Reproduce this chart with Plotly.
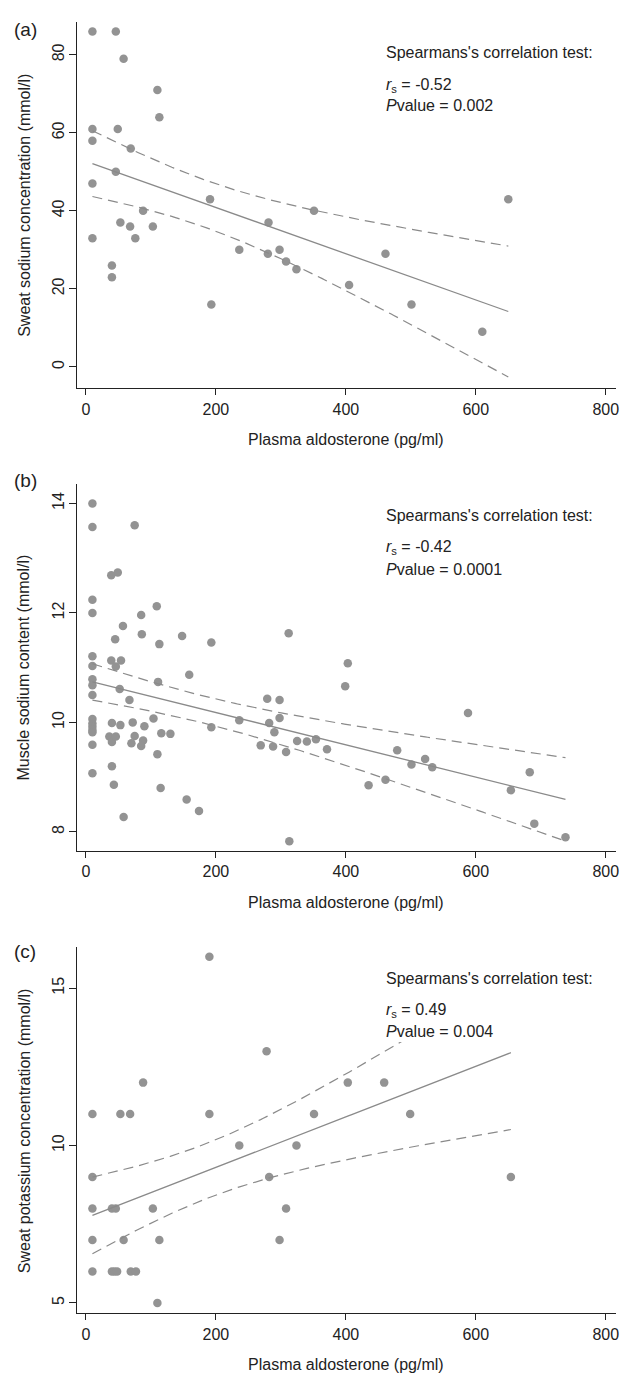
import math
import numpy as np
import plotly.graph_objects as go

# ---------------- data ----------------
x_title = "Plasma aldosterone (pg/ml)"
panel_labels = ["(a)", "(b)", "(c)"]
y_titles = ["Sweat sodium concentration (mmol/l)",
            "Muscle sodium content (mmol/l)",
            "Sweat potassium concentration (mmol/l)"]
x_ticks = [0, 200, 400, 600, 800]
a_ticks = [0, 20, 40, 60, 80]
b_ticks = [8, 10, 12, 14]
c_ticks = [5, 10, 15]
rs_text = ["-0.52", "-0.42", "0.49"]
p_text = ["0.002", "0.0001", "0.004"]

a_x = [10, 46, 58, 110, 113, 10, 49, 10, 69, 46, 10, 191, 88, 53, 68, 103, 281, 351,
       10, 76, 40, 40, 236, 280, 298, 308, 324, 193, 405, 461, 501, 610, 650]
a_y = [86, 86, 79, 71, 64, 61, 61, 58, 56, 50, 47, 43, 40, 37, 36, 36, 37, 40,
       33, 33, 26, 23, 30, 29, 30, 27, 25, 16, 21, 29, 16, 9, 43]

b_x = [10, 10, 75, 39, 49, 10, 10, 109, 85, 57, 45, 86, 148, 113, 193, 312, 10, 39, 54, 10, 46, 403,
       10, 10, 10, 52, 111, 159, 67, 399, 279, 298, 588,
       10, 10, 10, 10, 10, 10, 10,
       40, 53, 72, 90, 104,
       36, 40, 46, 75, 70, 88, 85, 116, 130, 110, 40, 43, 115, 155, 174, 58,
       193, 236, 282, 298, 290, 269, 288, 308, 325, 340, 354, 371, 313,
       479, 501, 522, 533, 435, 461, 654, 683, 690, 738]
b_y = [14.0, 13.57, 13.6, 12.69, 12.74, 12.24, 12.0, 12.12, 11.96, 11.76, 11.52, 11.61, 11.58, 11.43,
       11.46, 11.63, 11.21, 11.13, 11.13, 11.03, 11.02, 11.08,
       10.79, 10.68, 10.5, 10.61, 10.74, 10.87, 10.41, 10.66, 10.43, 10.41, 10.17,
       10.06, 9.98, 9.92, 9.86, 9.82, 9.59, 9.07,
       9.99, 9.95, 10.0, 9.93, 10.07,
       9.74, 9.64, 9.74, 9.75, 9.62, 9.67, 9.57, 9.8, 9.79, 9.42, 9.2, 8.86, 8.8, 8.59, 8.38, 8.27,
       9.91, 10.04, 9.99, 10.08, 9.82, 9.58, 9.56, 9.46, 9.66, 9.65, 9.69, 9.51, 7.83,
       9.49, 9.23, 9.33, 9.18, 8.85, 8.95, 8.76, 9.09, 8.15, 7.9]

# the last point (x = 610) lies under the white text box, as in the reference
c_x = [190, 278, 88, 403, 459, 10, 53, 68, 190, 351, 499, 236, 324, 10, 282, 654,
       10, 40, 46, 103, 308, 10, 58, 113, 298, 10, 40, 44, 48, 69, 77, 110, 610]
c_y = [16, 13, 12, 12, 12, 11, 11, 11, 11, 11, 11, 10, 10, 9, 9, 9,
       8, 8, 8, 8, 8, 7, 7, 7, 7, 6, 6, 6, 6, 6, 6, 5, 16]

# ---------------- helpers ----------------
def t_ppf975(df):
    """two-sided 95% critical value of Student t via numeric integration."""
    grid = np.linspace(0, 10, 200001)
    logc = math.lgamma((df + 1) / 2) - math.lgamma(df / 2) - 0.5 * math.log(df * math.pi)
    pdf = np.exp(logc) * (1 + grid ** 2 / df) ** (-(df + 1) / 2)
    cdf = 0.5 + np.concatenate([[0], np.cumsum((pdf[1:] + pdf[:-1]) / 2 * np.diff(grid))])
    return float(np.interp(0.975, cdf, grid))


def fit_ci(xs, ys):
    x = np.asarray(xs, float)
    y = np.asarray(ys, float)
    n = len(x)
    slope, inter = np.polyfit(x, y, 1)
    resid = y - (inter + slope * x)
    s = math.sqrt(np.sum(resid ** 2) / (n - 2))
    xm = x.mean()
    sxx = np.sum((x - xm) ** 2)
    t = t_ppf975(n - 2)
    xl = np.linspace(x.min(), x.max(), 200)
    yl = inter + slope * xl
    se = s * np.sqrt(1 / n + (xl - xm) ** 2 / sxx)
    return xl, yl, yl - t * se, yl + t * se


# ---------------- layout geometry (pixels) ----------------
W, H = 622, 1373
x_left, x_right = 77, 619.5
panels = [
    dict(x=a_x, y=a_y, top=21.7, bot=388.3, yr=[-5.5, 88.5], ticks=a_ticks,
         lab_y=30, ann=[52.7, 85, 105], box=None),
    dict(x=b_x, y=b_y, top=484.3, bot=851.0, yr=[7.65, 14.35], ticks=b_ticks,
         lab_y=480, ann=[515, 547.7, 569.3], box=None),
    dict(x=c_x, y=c_y, top=947.3, bot=1313.3, yr=[4.67, 16.3], ticks=c_ticks,
         lab_y=951, ann=[978.3, 1010, 1031], box=[383, 945, 600, 1042]),
]

FONT = "Liberation Sans, Arial, Helvetica, sans-serif"
MARK = "#939393"
LINE = "#8a8a8a"
AXC = "#222222"

def py(p):
    return 1 - p / H

def px(p):
    return p / W

fig = go.Figure()
annotations = []
shapes = []

for i, p in enumerate(panels):
    xa = "x" if i == 0 else f"x{i+1}"
    ya = "y" if i == 0 else f"y{i+1}"
    xl, yl, lo, hi = fit_ci(p["x"], p["y"])
    fig.add_trace(go.Scatter(x=p["x"], y=p["y"], mode="markers", xaxis=xa, yaxis=ya,
                             marker=dict(color=MARK, size=8.5, line=dict(width=0)),
                             showlegend=False, hoverinfo="skip"))
    for yy in (hi, lo):
        fig.add_trace(go.Scatter(x=xl, y=yy, mode="lines", xaxis=xa, yaxis=ya,
                                 line=dict(color=LINE, width=1.2, dash="10px,6px"),
                                 showlegend=False, hoverinfo="skip"))
    fig.add_trace(go.Scatter(x=xl, y=yl, mode="lines", xaxis=xa, yaxis=ya,
                             line=dict(color=LINE, width=1.3),
                             showlegend=False, hoverinfo="skip"))

    axis_common = dict(showline=True, linecolor=AXC, linewidth=1, ticks="outside",
                       ticklen=6, tickcolor=AXC, tickwidth=1, showgrid=False,
                       zeroline=False, ticklabeloverflow="allow",
                       tickfont=dict(family=FONT, size=16, color="#222"))
    key = "" if i == 0 else str(i + 1)
    fig.update_layout(**{
        f"xaxis{key}": dict(axis_common, domain=[px(x_left), px(x_right)], range=[-14.5, 815],
                            tickvals=x_ticks, anchor=ya),
        f"yaxis{key}": dict(axis_common, domain=[py(p["bot"]), py(p["top"])], range=p["yr"],
                            tickvals=p["ticks"], tickangle=-90, anchor=xa, ticklen=7,
                            ticklabelstandoff=-2),
    })

    # panel label
    annotations.append(dict(text=panel_labels[i], xref="paper", yref="paper",
                            x=px(12), y=py(p["lab_y"]), xanchor="left", yanchor="middle",
                            showarrow=False, font=dict(family=FONT, size=19, color="#222")))
    # axis titles
    annotations.append(dict(text=x_title, xref="paper", yref="paper",
                            x=px((x_left + x_right) / 2), y=py(p["bot"] + 51),
                            xanchor="center", yanchor="middle", showarrow=False,
                            font=dict(family=FONT, size=16, color="#222")))
    annotations.append(dict(text=y_titles[i], xref="paper", yref="paper",
                            x=px(24), y=py((p["top"] + p["bot"]) / 2), textangle=-90,
                            xanchor="center", yanchor="middle", showarrow=False,
                            font=dict(family=FONT, size=16, color="#222")))
    # correlation text (white box behind it, as in the reference)
    if p["box"] is not None:
        bx0, by0, bx1, by1 = p["box"]
        shapes.append(dict(type="rect", xref="paper", yref="paper", layer="above",
                           x0=px(bx0), x1=px(bx1), y0=py(by1), y1=py(by0),
                           fillcolor="white", line=dict(width=0)))
    lines = ["Spearmans's correlation test:",
             f"<i>r</i><sub>s</sub> = {rs_text[i]}",
             f"<i>P</i>value = {p_text[i]}"]
    for j, t in enumerate(lines):
        annotations.append(dict(text=t, xref="paper", yref="paper",
                                x=px(386), y=py(p["ann"][j]), xanchor="left",
                                yanchor="middle", showarrow=False,
                                font=dict(family=FONT, size=16, color="#222")))

fig.update_layout(width=W, height=H, margin=dict(l=0, r=0, t=0, b=0),
                  paper_bgcolor="white", plot_bgcolor="white",
                  annotations=annotations, shapes=shapes,
                  font=dict(family=FONT, size=16, color="#222"))

fig.write_html("out.html", config={"displayModeBar": False},
               post_script="document.body.style.margin='0px';")
